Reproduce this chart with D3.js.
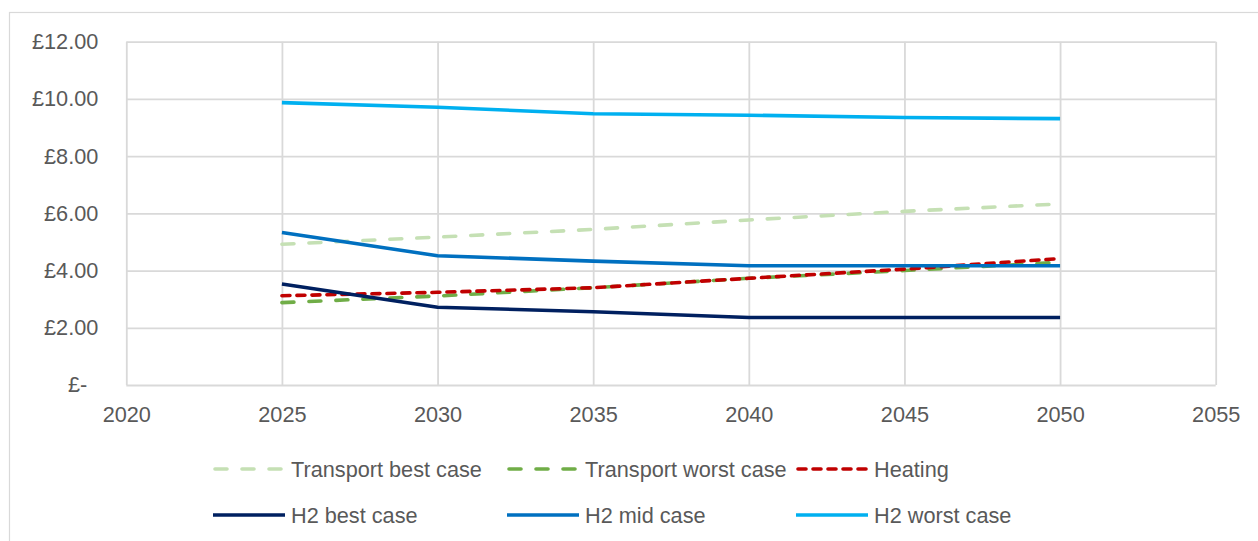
<!DOCTYPE html>
<html>
<head>
<meta charset="utf-8">
<script src="https://cdn.jsdelivr.net/npm/d3@7"></script>
<style>
  html, body { margin: 0; padding: 0; background: #ffffff; }
  svg { display: block; }
  text { font-family: "Liberation Sans", Arial, sans-serif; fill: #595959; }
</style>
</head>
<body>
<svg id="chart" width="1258" height="541"></svg>
<script>
// Hydrogen cost scenarios, £ per unit, 2025–2050
const years = [2025, 2030, 2035, 2040, 2045, 2050];
const transportBest  = [4.92, 5.17, 5.44, 5.77, 6.07, 6.33];
const transportWorst = [2.88, 3.11, 3.40, 3.73, 4.00, 4.29];
const heating        = [3.12, 3.24, 3.40, 3.73, 4.05, 4.42];
const h2Best         = [3.53, 2.72, 2.56, 2.36, 2.36, 2.36];
const h2Mid          = [5.33, 4.52, 4.33, 4.17, 4.17, 4.17];
const h2Worst        = [9.87, 9.71, 9.48, 9.43, 9.35, 9.31];

const xTicks = [2020, 2025, 2030, 2035, 2040, 2045, 2050, 2055];
const yTicks = [0, 2, 4, 6, 8, 10, 12];

const series = [
  { name: "Transport best case",  values: transportBest,  color: "#c5e0b4", dash: "12,15" },
  { name: "Transport worst case", values: transportWorst, color: "#70ad47", dash: "12,15" },
  { name: "Heating",              values: heating,        color: "#c00000", dash: "8,7" },
  { name: "H2 best case",         values: h2Best,         color: "#002060", dash: null },
  { name: "H2 mid case",          values: h2Mid,          color: "#0070c0", dash: null },
  { name: "H2 worst case",        values: h2Worst,        color: "#00b0f0", dash: null }
];

const fontSize = 21.7;
const svg = d3.select("#chart");

// outer chart frame
svg.append("rect")
  .attr("x", 9.5).attr("y", 12.5)
  .attr("width", 1262).attr("height", 540)
  .attr("fill", "none").attr("stroke", "#d9d9d9").attr("stroke-width", 1.2);

const x = d3.scaleLinear().domain([2020, 2055]).range([126.3, 1215.7]);
const y = d3.scaleLinear().domain([0, 12]).range([385, 41.7]);

const grid = "#d9d9d9";

// horizontal gridlines
svg.append("g")
  .attr("transform", `translate(${x(2020)},0)`)
  .call(d3.axisLeft(y).tickValues(yTicks).tickSize(-(x(2055) - x(2020))).tickFormat(""))
  .call(g => g.select(".domain").remove())
  .call(g => g.selectAll("line").attr("stroke", grid).attr("stroke-width", 1.8));

// vertical gridlines
svg.append("g")
  .attr("transform", `translate(0,${y(0)})`)
  .call(d3.axisBottom(x).tickValues(xTicks).tickSize(-(y(0) - y(12))).tickFormat(""))
  .call(g => g.select(".domain").remove())
  .call(g => g.selectAll("line").attr("stroke", grid).attr("stroke-width", 1.8));

// y tick labels (accounting style)
const yFmt = v => v === 0 ? "£-" : "£" + d3.format(".2f")(v);
svg.append("g")
  .attr("transform", `translate(${x(2020)},0)`)
  .call(d3.axisLeft(y).tickValues(yTicks).tickSize(0).tickPadding(28).tickFormat(yFmt))
  .call(g => g.select(".domain").remove())
  .call(g => g.selectAll("text")
    .attr("font-size", fontSize)
    .attr("dx", d => d === 0 ? -11 : 0)
    .style("font-family", '"Liberation Sans", Arial, sans-serif')
    .style("fill", "#595959"));

// x tick labels
svg.append("g")
  .attr("transform", `translate(0,${y(0)})`)
  .call(d3.axisBottom(x).tickValues(xTicks).tickSize(0).tickPadding(22).tickFormat(d3.format("d")))
  .call(g => g.select(".domain").remove())
  .call(g => g.selectAll("text")
    .attr("font-size", fontSize)
    .style("font-family", '"Liberation Sans", Arial, sans-serif')
    .style("fill", "#595959"));

// series lines
const line = d3.line()
  .x((d, i) => x(years[i]))
  .y(d => y(d));

svg.append("g").selectAll("path")
  .data(series)
  .join("path")
  .attr("d", s => line(s.values))
  .attr("fill", "none")
  .attr("stroke", s => s.color)
  .attr("stroke-width", 3.6)
  .attr("stroke-dasharray", s => s.dash)
  .attr("stroke-linecap", s => s.dash ? "round" : "butt")
  .attr("stroke-linejoin", "round");

// legend: two rows of three
const legendCols = [213, 507, 796];
const legendRows = [469, 515];
const legend = svg.append("g").selectAll("g")
  .data(series)
  .join("g")
  .attr("transform", (s, i) => `translate(${legendCols[i % 3]},${legendRows[Math.floor(i / 3)]})`);

legend.append("line")
  .attr("x1", s => s.dash ? 2 : 0).attr("x2", 72)
  .attr("y1", 0).attr("y2", 0)
  .attr("stroke", s => s.color)
  .attr("stroke-width", 3.6)
  .attr("stroke-dasharray", s => s.dash)
  .attr("stroke-linecap", s => s.dash ? "round" : "butt");

legend.append("text")
  .attr("x", 78)
  .attr("y", 0)
  .attr("dominant-baseline", "central")
  .attr("font-size", fontSize)
  .text(s => s.name);
</script>
</body>
</html>
